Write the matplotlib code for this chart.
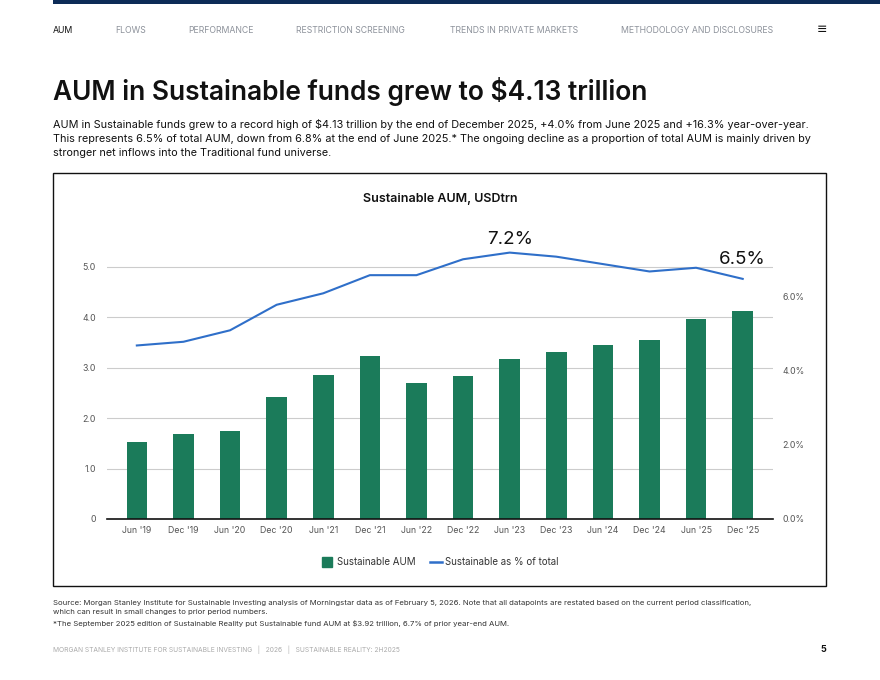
import matplotlib
matplotlib.use("Agg")
import matplotlib.pyplot as plt
from matplotlib.lines import Line2D
from matplotlib.patches import Rectangle

# data
periods = ["Jun '19", "Dec '19", "Jun '20", "Dec '20", "Jun '21", "Dec '21", "Jun '22",
           "Dec '22", "Jun '23", "Dec '23", "Jun '24", "Dec '24", "Jun '25", "Dec '25"]
aum_trn = [1.52, 1.68, 1.74, 2.43, 2.85, 3.24, 2.69, 2.83, 3.18, 3.32, 3.46, 3.56, 3.97, 4.13]
share_pct = [4.69, 4.79, 5.10, 5.79, 6.10, 6.59, 6.59, 7.02, 7.20, 7.09, 6.89, 6.69, 6.79, 6.49]
left_ticks = [0, 1, 2, 3, 4, 5]
left_labels = ["0", "1.0", "2.0", "3.0", "4.0", "5.0"]
right_ticks = [0, 2, 4, 6]
right_labels = ["0.0%", "2.0%", "4.0%", "6.0%"]
callout_idx = [8, 13]
callout_text = ["7.2%", "6.5%"]

nav_items = ["AUM", "FLOWS", "PERFORMANCE", "RESTRICTION SCREENING",
             "TRENDS IN PRIVATE MARKETS", "METHODOLOGY AND DISCLOSURES"]
nav_x = [53, 115, 188, 296, 450, 621]

title = "AUM in Sustainable funds grew to $4.13 trillion"
body = [
    "AUM in Sustainable funds grew to a record high of $4.13 trillion by the end of December 2025, +4.0% from June 2025 and +16.3% year-over-year.",
    "This represents 6.5% of total AUM, down from 6.8% at the end of June 2025.* The ongoing decline as a proportion of total AUM is mainly driven by",
    "stronger net inflows into the Traditional fund universe.",
]
notes = [
    "Source: Morgan Stanley Institute for Sustainable Investing analysis of Morningstar data as of February 5, 2026. Note that all datapoints are restated based on the current period classification,",
    "which can result in small changes to prior period numbers.",
    "*The September 2025 edition of Sustainable Reality put Sustainable fund AUM at $3.92 trillion, 6.7% of prior year-end AUM.",
]
footer = "MORGAN STANLEY INSTITUTE FOR SUSTAINABLE INVESTING   |   2026   |   SUSTAINABLE REALITY: 2H2025"

W, H = 880, 680
GREEN = "#1b7b5a"
BLUE = "#2f6fc9"
NAVY = "#0d2b57"

plt.rcParams["font.family"] = ["Inter", "DejaVu Sans"]

fig = plt.figure(figsize=(W / 100, H / 100), dpi=100)
renderer = fig.canvas.get_renderer()


def put(x, y, s, **kw):
    return fig.text(x / W, 1 - y / H, s, **kw)


def fit(t, width):
    w = t.get_window_extent(renderer).width
    t.set_fontsize(t.get_fontsize() * width / w)
    return t.get_fontsize()


# top bar and nav
fig.add_artist(Rectangle((53 / W, 1 - 4 / H), 1, 4 / H, transform=fig.transFigure,
                         color=NAVY, lw=0))
t = put(nav_x[-1], 33, nav_items[-1], fontsize=6, va="baseline")
nav_size = fit(t, 154)
t.remove()
for i, (label, x) in enumerate(zip(nav_items, nav_x)):
    put(x, 33, label, fontsize=nav_size, va="baseline",
        color="#111111" if i == 0 else "#8d929b")
put(822, 30, "≡", fontsize=9, va="center", ha="center", color="#111111",
    family="DejaVu Sans")

# title and text
t = put(53, 100, title, fontsize=18, va="baseline", color="#111111", weight="semibold")
fit(t, 594)
t = put(53, 128, body[0], fontsize=7.5, va="baseline", color="#111111")
body_size = fit(t, 756)
put(53, 142, body[1], fontsize=body_size, va="baseline", color="#111111")
put(53, 156, body[2], fontsize=body_size, va="baseline", color="#111111")

# chart frame
fig.add_artist(Rectangle((53 / W, 1 - 586 / H), (826 - 53) / W, (586 - 173) / H,
                         transform=fig.transFigure, fill=False, ec="#111111", lw=1))
t = put(440, 202, "Sustainable AUM, USDtrn", fontsize=9, ha="center", va="baseline",
        weight="semibold", color="#111111")
fit(t, 155)

ax = fig.add_axes([107 / W, 1 - 519 / H, (773 - 107) / W, (519 - 223) / H])
x = list(range(len(periods)))
ax.bar(x, aum_trn, width=0.44, color=GREEN, zorder=2)
ax.set_xlim(-0.64, 13.65)
ax.set_ylim(0, 296 / 50.4)
ax.set_yticks(left_ticks, left_labels)
ax.set_xticks(x, periods)
ax.grid(axis="y", color="#cccccc", lw=0.8, zorder=0)
ax.set_axisbelow(True)
for side in ["top", "left", "right"]:
    ax.spines[side].set_visible(False)
ax.spines["bottom"].set_color("#111111")
ax.spines["bottom"].set_linewidth(1.2)
ax.tick_params(axis="both", length=0, labelsize=6.3, labelcolor="#555555")
ax.tick_params(axis="y", pad=8)
ax.tick_params(axis="x", pad=5)

ax2 = ax.twinx()
ax2.plot(x, share_pct, color=BLUE, lw=1.5)
ax2.set_ylim(0, 8.0)
ax2.set_yticks(right_ticks, right_labels)
for side in ["top", "left", "right", "bottom"]:
    ax2.spines[side].set_visible(False)
ax2.tick_params(axis="y", length=0, labelsize=6.3, labelcolor="#555555", pad=7)

offsets = [9, 15]
for i, s, off in zip(callout_idx, callout_text, offsets):
    ax2.annotate(s, (x[i], share_pct[i]), xytext=(0, off), textcoords="offset pixels",
                 ha="center", va="baseline", fontsize=13.5, color="#111111")

handles = [Line2D([], [], marker="s", ls="", markersize=6.5, color=GREEN),
           Line2D([], [], color=BLUE, lw=1.8)]
fig.legend(handles, ["Sustainable AUM", "Sustainable as % of total"], ncol=2,
           loc="center", bbox_to_anchor=(440 / W, 1 - 562 / H), frameon=False,
           fontsize=7, handlelength=1.3, handletextpad=0.3, columnspacing=1.5,
           labelcolor="#333333")

# notes and footer
t = put(53, 605, notes[0], fontsize=5.5, va="baseline", color="#333333")
note_size = fit(t, 701)
put(53, 614, notes[1], fontsize=note_size, va="baseline", color="#333333")
put(53, 626, notes[2], fontsize=note_size, va="baseline", color="#333333")
t = put(53, 652, footer, fontsize=4.5, va="baseline", color="#aaaaaa")
fit(t, 345)
put(826, 652, "5", fontsize=6.5, va="baseline", ha="right", weight="bold", color="#111111")

fig.savefig("out.png", dpi=100)
